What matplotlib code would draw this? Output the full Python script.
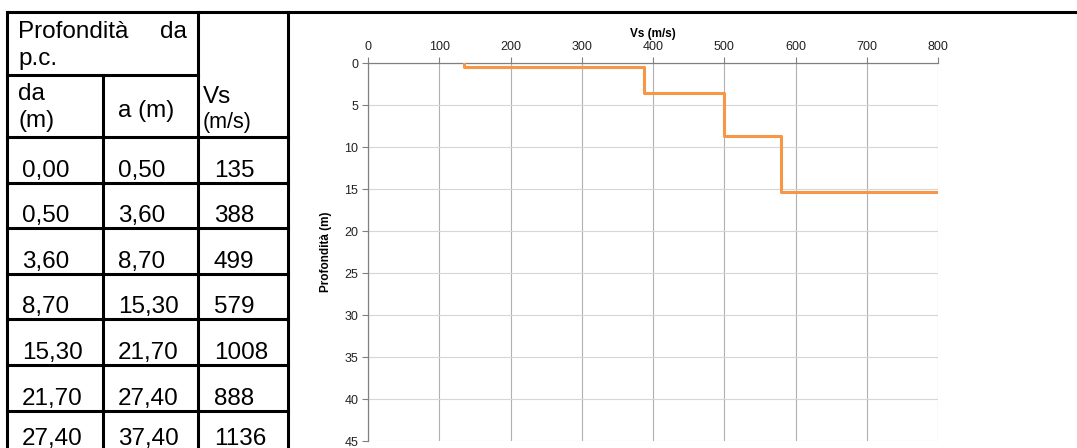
import matplotlib
matplotlib.use("Agg")
import matplotlib.pyplot as plt
import numpy as np

plt.rcParams['font.family'] = ['Liberation Sans', 'DejaVu Sans']

# strati: profondità da / a (m) e Vs (m/s)
da = [0.00, 0.50, 3.60, 8.70, 15.30, 21.70, 27.40]
a = [0.50, 3.60, 8.70, 15.30, 21.70, 27.40, 37.40]
vs = [135, 388, 499, 579, 1008, 888, 1136]

x_ticks = [0, 100, 200, 300, 400, 500, 600, 700, 800]
y_ticks = [0, 5, 10, 15, 20, 25, 30, 35, 40, 45]

W, H = 1077, 448
fig = plt.figure(figsize=(W / 100, H / 100), dpi=100)

# tabella disegnata in coordinate pixel
tab = fig.add_axes([0, 0, 1, 1])
tab.set_xlim(0, W)
tab.set_ylim(H, 0)
tab.axis('off')

lw = 2.2
c0, c1, c2, c3 = 7, 103, 198, 288
top, h1, h2 = 12, 75, 137
row_h = 45.6
row_lines = [h2 + row_h * i for i in range(len(vs) + 1)]

tab.plot([c0, W], [top, top], color='black', lw=lw, solid_capstyle='butt')
tab.plot([c0, c0], [top, H], color='black', lw=lw)
tab.plot([c1, c1], [h1, H], color='black', lw=lw)
tab.plot([c2, c2], [top, H], color='black', lw=lw)
tab.plot([c3, c3], [top, H], color='black', lw=lw)
tab.plot([c0, c2], [h1, h1], color='black', lw=lw)
for y in row_lines:
    tab.plot([c0, c3], [y, y], color='black', lw=lw)

fs = 17.5
tab.text(18, 38, 'Profondità', fontsize=fs, va='baseline')
tab.text(187, 38, 'da', fontsize=fs, va='baseline', ha='right')
tab.text(18, 65, 'p.c.', fontsize=fs, va='baseline')
tab.text(18, 100, 'da', fontsize=fs, va='baseline')
tab.text(18, 127, '(m)', fontsize=fs, va='baseline')
tab.text(118, 117, 'a (m)', fontsize=fs, va='baseline')
tab.text(203, 103, 'Vs', fontsize=fs, va='baseline')
tab.text(203, 128, '(m/s)', fontsize=15.5, va='baseline')

def fmt(v):
    return f'{v:.2f}'.replace('.', ',')

for i in range(len(vs)):
    yb = min(row_lines[i + 1] - 6, 445)
    tab.text(22, yb, fmt(da[i]), fontsize=fs, va='baseline')
    tab.text(118, yb, fmt(a[i]), fontsize=fs, va='baseline')
    tab.text(214, yb, str(vs[i]), fontsize=fs, va='baseline')

# grafico Vs - profondità
ax = fig.add_axes([368 / W, 1 - 441 / H, (938 - 368) / W, (441 - 63) / H])
xs, ys = [], []
for v, d0, d1 in zip(vs, da, a):
    xs += [v, v]
    ys += [d0, d1]
ax.plot(xs, ys, color='#F79646', lw=2.2, zorder=3)

ax.set_xlim(0, 800)
ax.set_ylim(45, 0)
ax.set_xticks(x_ticks)
ax.set_yticks(y_ticks)
ax.xaxis.tick_top()
ax.xaxis.set_label_position('top')
ax.set_xlabel('Vs (m/s)', fontsize=8.5, fontweight='bold', labelpad=3)
ax.set_ylabel('Profondità (m)', fontsize=8.5, fontweight='bold', labelpad=9)
ax.tick_params(axis='both', labelsize=9, colors='#808080', labelcolor='#222222',
               length=4, width=0.8, pad=3)
for s in ['bottom', 'right']:
    ax.spines[s].set_visible(False)
for s in ['top', 'left']:
    ax.spines[s].set_color('#808080')
    ax.spines[s].set_linewidth(0.9)
ax.xaxis.grid(True, color='#b0b0b0', lw=0.8)
ax.yaxis.grid(True, color='#d6d6d6', lw=0.8)
ax.set_axisbelow(True)

fig.savefig('out.png', dpi=100)
